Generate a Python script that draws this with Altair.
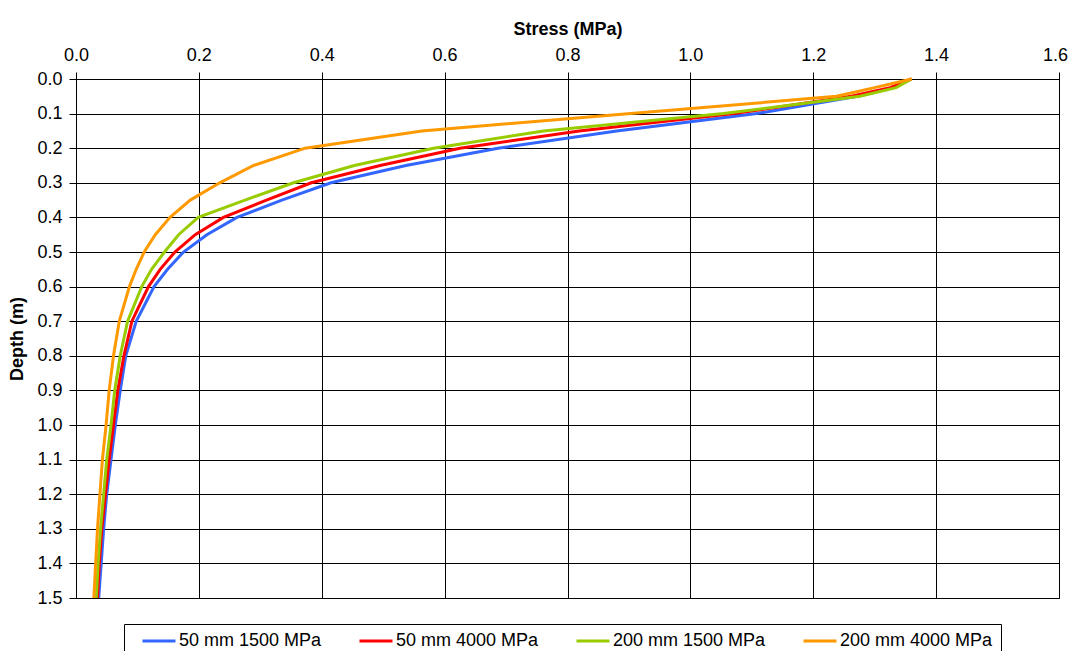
import altair as alt
import pandas as pd

# ---- data ----
depth = [0.0, 0.025, 0.05, 0.1, 0.15, 0.2, 0.25, 0.3, 0.35, 0.4, 0.45, 0.5, 0.55,
         0.6, 0.7, 0.8, 0.9, 1.0, 1.1, 1.2, 1.3, 1.4, 1.5]

series_names = ["50 mm 1500 MPa", "50 mm 4000 MPa", "200 mm 1500 MPa", "200 mm 4000 MPa"]

s50_1500 = [1.360, 1.330, 1.272, 1.108, 0.880, 0.687, 0.537, 0.415, 0.335, 0.262, 0.213, 0.175,
            0.149, 0.127, 0.098, 0.081, 0.072, 0.064, 0.057, 0.050, 0.045, 0.041, 0.037]
s50_4000 = [1.360, 1.325, 1.262, 1.071, 0.819, 0.625, 0.495, 0.383, 0.310, 0.240, 0.194, 0.161,
            0.137, 0.118, 0.091, 0.078, 0.068, 0.061, 0.054, 0.048, 0.042, 0.038, 0.035]
s200_1500 = [1.360, 1.335, 1.276, 1.054, 0.761, 0.582, 0.453, 0.354, 0.275, 0.199, 0.167, 0.144,
             0.123, 0.107, 0.084, 0.072, 0.063, 0.057, 0.050, 0.045, 0.040, 0.036, 0.033]
s200_4000 = [1.360, 1.300, 1.238, 0.903, 0.563, 0.373, 0.289, 0.234, 0.186, 0.153, 0.129, 0.111,
             0.098, 0.087, 0.0705, 0.061, 0.054, 0.049, 0.043, 0.039, 0.035, 0.032, 0.029]

x_ticks = [0.0, 0.2, 0.4, 0.6, 0.8, 1.0, 1.2, 1.4, 1.6]
y_ticks = [0.0, 0.1, 0.2, 0.3, 0.4, 0.5, 0.6, 0.7, 0.8, 0.9, 1.0, 1.1, 1.2, 1.3, 1.4, 1.5]

colors = ["#3366FF", "#FF0000", "#99CC00", "#FF9900"]

rows = []
for name, vals in zip(series_names, [s50_1500, s50_4000, s200_1500, s200_4000]):
    for d, v in zip(depth, vals):
        rows.append({"series": name, "depth": d, "stress": v})
df = pd.DataFrame(rows)

FONT = "Liberation Sans"

chart = alt.Chart(df).mark_line(strokeWidth=3).encode(
    x=alt.X("stress:Q",
            scale=alt.Scale(domain=[0, 1.6], nice=False, zero=False),
            axis=alt.Axis(orient="top", title="Stress (MPa)", values=x_ticks, format=".1f",
                          labelFlush=False, labelOverlap=False, labelPadding=8,
                          labelOffset={"condition": {"test": "datum.value >= 1.59", "value": -4},
                                       "value": 0},
                          titlePadding=8)),
    y=alt.Y("depth:Q",
            scale=alt.Scale(domain=[0, 1.5], reverse=True, nice=False, zero=False),
            axis=alt.Axis(orient="left", title="Depth (m)", values=y_ticks, format=".1f",
                          labelOverlap=False, labelPadding=7, titlePadding=10)),
    color=alt.Color("series:N",
                    scale=alt.Scale(domain=series_names, range=colors),
                    legend=alt.Legend(title=None, orient="none", legendX=48, legendY=545,
                                      direction="horizontal", columns=4, gridAlign="none",
                                      columnPadding=27, padding=8,
                                      symbolType="M0.27,0H6.27", symbolSize=121,
                                      symbolStrokeWidth=3, labelOffset=29,
                                      strokeColor="#000000", fillColor="#FFFFFF",
                                      labelFont=FONT, labelFontSize=18,
                                      labelColor="#000000", labelLimit=400)),
    order=alt.Order("depth:Q"),
).properties(
    width=983,
    height=519,
    autosize=alt.AutoSizeParams(type="none"),
    padding={"left": 68, "top": 71, "right": 9, "bottom": 53},
    background="#FFFFFF",
).configure_axis(
    labelFont=FONT, labelFontSize=18, labelColor="#000000",
    titleFont=FONT, titleFontSize=18, titleFontWeight="bold", titleColor="#000000",
    grid=True, gridColor="#000000", gridWidth=1, gridOpacity=1,
    domainColor="#000000", domainWidth=1,
    tickColor="#000000", tickSize=7, tickWidth=1,
).configure_view(
    stroke="#000000", strokeWidth=1,
)

chart.save("out.html", embed_options={"renderer": "svg", "actions": False})
